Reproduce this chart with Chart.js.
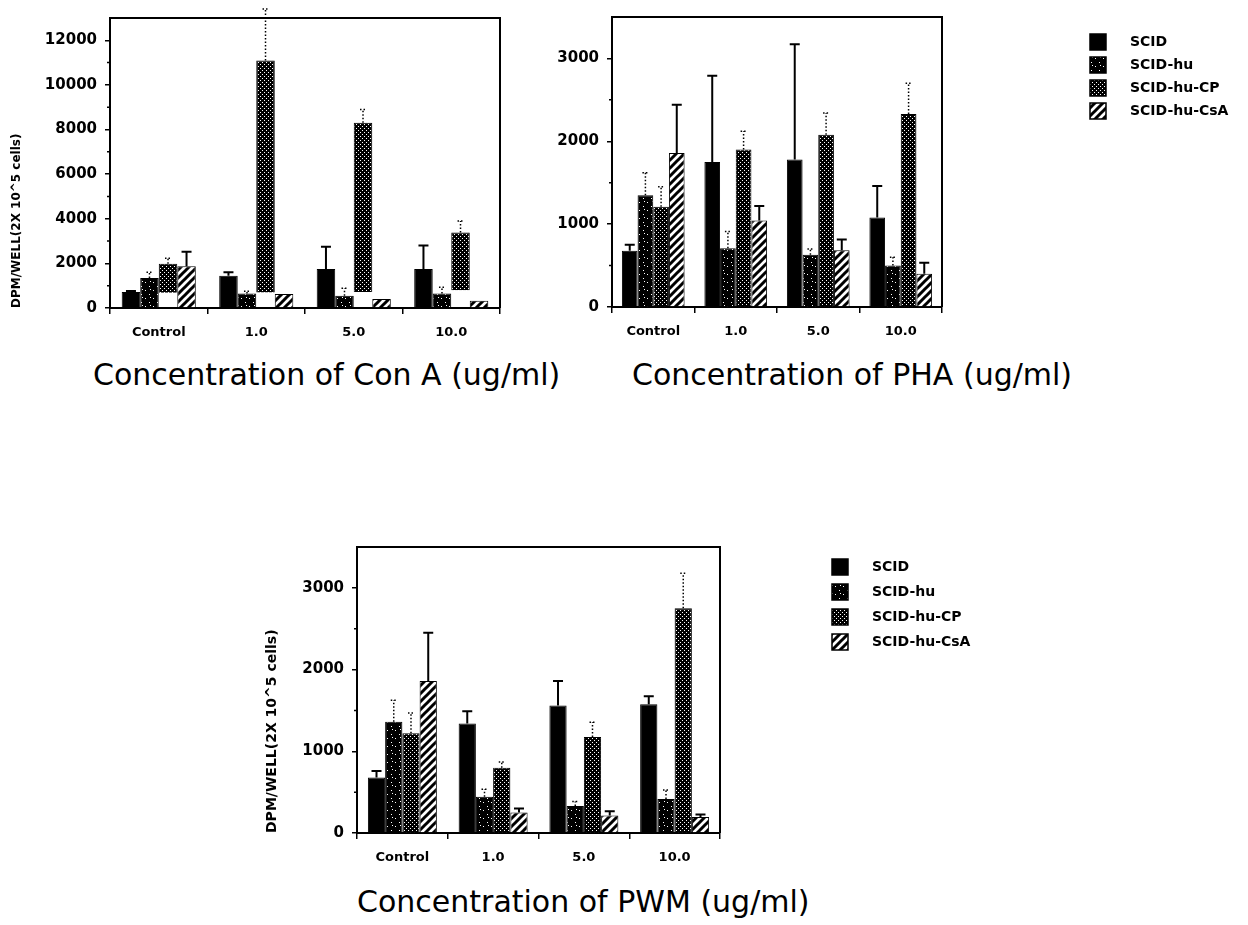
<!DOCTYPE html>
<html>
<head>
<meta charset="utf-8">
<title>Mitogen response</title>
<script src="https://cdn.jsdelivr.net/npm/chart.js@4.4.1/dist/chart.umd.min.js"></script>
<style>
  body { margin: 0; background: #fff; }
  #page { position: relative; width: 1248px; height: 925px; overflow: hidden; }
  #page canvas, .caption { position: absolute; }
  .caption { font: 30px 'DejaVu Sans', sans-serif; line-height: 36px; color: #000; white-space: nowrap; }
</style>
</head>
<body>
<div id="page">
  <canvas id="cona" width="520" height="350" style="left:0;top:0"></canvas>
  <canvas id="pha" width="698" height="350" style="left:550px;top:0"></canvas>
  <canvas id="pwm" width="800" height="350" style="left:250px;top:520px"></canvas>
  <div class="caption" style="left:93px;top:357px">Concentration of Con A (ug/ml)</div>
  <div class="caption" style="left:632px;top:357px">Concentration of PHA (ug/ml)</div>
  <div class="caption" style="left:357px;top:884px">Concentration of PWM (ug/ml)</div>
</div>
<script>
const doses = ['Control', '1.0', '5.0', '10.0'];
const groups = ['SCID', 'SCID-hu', 'SCID-hu-CP', 'SCID-hu-CsA'];
const yLabel = 'DPM/WELL(2X 10^5 cells)';

// Con A
const conaTicks = [0, 2000, 4000, 6000, 8000, 10000, 12000];
const conaScid = [720, 1450, 1750, 1750];
const conaScidErr = [40, 150, 1000, 1050];
const conaHu = [1350, 650, 550, 650];
const conaHuErr = [250, 100, 330, 280];
const conaCpBase = [680, 700, 720, 800];
const conaCp = [1980, 11100, 8300, 3380];
const conaCpErr = [250, 2300, 600, 520];
const conaCsa = [1870, 630, 400, 320];
const conaCsaErr = [650, 0, 0, 0];

// PHA
const phaTicks = [0, 1000, 2000, 3000];
const phaScid = [680, 1750, 1780, 1080];
const phaScidErr = [70, 1040, 1390, 380];
const phaHu = [1350, 710, 630, 500];
const phaHuErr = [270, 200, 70, 100];
const phaCp = [1210, 1900, 2080, 2330];
const phaCpErr = [240, 220, 260, 370];
const phaCsa = [1860, 1045, 685, 400];
const phaCsaErr = [580, 175, 130, 135];

// PWM
const pwmTicks = [0, 1000, 2000, 3000];
const pwmScid = [680, 1340, 1560, 1575];
const pwmScidErr = [80, 150, 300, 100];
const pwmHu = [1360, 445, 330, 415];
const pwmHuErr = [265, 90, 55, 110];
const pwmCp = [1220, 800, 1175, 2750];
const pwmCpErr = [250, 70, 180, 430];
const pwmCsa = [1860, 250, 215, 195];
const pwmCsaErr = [590, 50, 50, 30];

Chart.defaults.font.family = "'DejaVu Sans', sans-serif";
Chart.defaults.color = '#000';

// fill patterns
function tile(size, paint) {
  const c = document.createElement('canvas');
  c.width = c.height = size;
  const g = c.getContext('2d');
  paint(g, size);
  return g.createPattern(c, 'repeat');
}
function dots(g, n, pts) {
  g.fillStyle = '#000';
  g.fillRect(0, 0, n, n);
  g.fillStyle = '#fff';
  pts.forEach(p => g.fillRect(p[0], p[1], 1, 1));
}
const fills = [
  '#000',
  tile(8, (g, n) => dots(g, n, [[1, 2], [5, 6], [6, 1]])),
  tile(4, (g, n) => dots(g, n, [[0, 0], [2, 2]])),
  tile(8, (g, n) => {
    g.fillStyle = '#fff';
    g.fillRect(0, 0, n, n);
    g.strokeStyle = '#000';
    g.lineWidth = 3;
    g.beginPath();
    g.moveTo(-2, n + 2); g.lineTo(n + 2, -2);
    g.moveTo(-4, 4); g.lineTo(4, -4);
    g.moveTo(4, n + 4); g.lineTo(n + 4, 4);
    g.stroke();
  })
];
const dotted = [false, true, true, false];

const errorBars = {
  id: 'errorBars',
  afterDatasetsDraw(chart) {
    const ctx = chart.ctx;
    const y = chart.scales.y;
    chart.data.datasets.forEach((ds, i) => {
      chart.getDatasetMeta(i).data.forEach((bar, j) => {
        const e = ds.errors[j];
        if (!e) return;
        const v = ds.data[j];
        const top = Array.isArray(v) ? v[1] : v;
        const yEnd = y.getPixelForValue(top + e);
        const cap = ds.dotted ? 3 : 5;
        ctx.save();
        ctx.strokeStyle = '#000';
        ctx.lineWidth = ds.dotted ? 1.5 : 2;
        ctx.setLineDash(ds.dotted ? [1.5, 2] : []);
        ctx.beginPath();
        ctx.moveTo(bar.x, bar.y);
        ctx.lineTo(bar.x, yEnd);
        ctx.moveTo(bar.x - cap, yEnd);
        ctx.lineTo(bar.x + cap, yEnd);
        ctx.stroke();
        ctx.restore();
      });
    });
  }
};

const frame = {
  id: 'frame',
  afterDraw(chart, args, opts) {
    const ctx = chart.ctx;
    const a = chart.chartArea;
    const y = chart.scales.y;
    ctx.save();
    ctx.strokeStyle = '#000';
    ctx.lineWidth = 2;
    ctx.beginPath();
    ctx.moveTo(a.left, a.top);
    ctx.lineTo(a.right, a.top);
    ctx.lineTo(a.right, a.bottom);
    ctx.stroke();
    ctx.lineWidth = 1.5;
    ctx.beginPath();
    (opts.minor || []).forEach(v => {
      const p = y.getPixelForValue(v);
      ctx.moveTo(a.left - 3, p);
      ctx.lineTo(a.left, p);
    });
    ctx.stroke();
    ctx.restore();
  }
};

const swatches = {
  id: 'swatches',
  afterDraw(chart, args, opts) {
    if (!opts.show) return;
    const ctx = chart.ctx;
    ctx.save();
    ctx.font = "bold 14px 'DejaVu Sans'";
    ctx.textBaseline = 'middle';
    chart.data.datasets.forEach((ds, i) => {
      const cy = opts.y + i * opts.gap;
      ctx.fillStyle = ds.backgroundColor;
      ctx.fillRect(opts.x, cy - 8, 16, 16);
      ctx.strokeStyle = '#000';
      ctx.lineWidth = 1.5;
      ctx.strokeRect(opts.x, cy - 8, 16, 16);
      ctx.fillStyle = '#000';
      ctx.fillText(ds.label, opts.x + 40, cy);
    });
    ctx.restore();
  }
};

function series(values, errs) {
  return values.map((d, i) => ({
    label: groups[i],
    data: d,
    errors: errs[i],
    dotted: dotted[i],
    backgroundColor: fills[i]
  }));
}

function panel(id, g, datasets) {
  return new Chart(document.getElementById(id), {
    type: 'bar',
    data: { labels: doses, datasets: datasets },
    plugins: [errorBars, frame, swatches],
    options: {
      responsive: false,
      animation: false,
      layout: { padding: { top: g.top, right: g.right, left: 0, bottom: 0 } },
      datasets: {
        bar: { categoryPercentage: 0.76, barPercentage: 1, borderColor: '#000', borderWidth: 1 }
      },
      scales: {
        x: {
          grid: { offset: true, drawOnChartArea: false, tickLength: 6, color: '#000', lineWidth: 1.5 },
          border: { display: true, color: '#000', width: 2 },
          ticks: { font: { size: 13, weight: 'bold' }, padding: 11, maxRotation: 0 },
          afterFit: s => { s.height = g.xHeight; }
        },
        y: {
          min: 0,
          max: g.max,
          grid: { drawOnChartArea: false, tickLength: 5, color: '#000', lineWidth: 1.5 },
          border: { display: true, color: '#000', width: 2 },
          ticks: { font: { size: 15, weight: 'bold' }, padding: 8, callback: v => String(v) },
          title: g.yTitle ? {
            display: true, text: yLabel, align: 'start',
            font: { size: g.yTitle, weight: 'bold' }, padding: { top: g.yTitlePad, bottom: 0 }
          } : { display: false },
          afterBuildTicks: s => { s.ticks = g.ticks.map(v => ({ value: v })); },
          afterFit: s => { s.width = g.yWidth; }
        }
      },
      plugins: {
        legend: { display: false },
        tooltip: { enabled: false },
        frame: { minor: g.minor },
        swatches: g.legend || { show: false }
      }
    }
  });
}

panel('cona', {
  top: 18, right: 20, xHeight: 42, yWidth: 110, max: 13000,
  ticks: conaTicks, minor: [1000, 3000, 5000, 7000, 9000, 11000],
  yTitle: 12, yTitlePad: 10
}, series(
  [conaScid, conaHu, conaCpBase.map((b, i) => [b, conaCp[i]]), conaCsa],
  [conaScidErr, conaHuErr, conaCpErr, conaCsaErr]
));

panel('pha', {
  top: 15, right: 306, xHeight: 43, yWidth: 62, max: 3500,
  ticks: phaTicks, minor: [500, 1500, 2500],
  legend: { show: true, x: 540, y: 42, gap: 23 }
}, series(
  [phaScid, phaHu, phaCp, phaCsa],
  [phaScidErr, phaHuErr, phaCpErr, phaCsaErr]
));

panel('pwm', {
  top: 27, right: 330, xHeight: 37, yWidth: 107, max: 3500,
  ticks: pwmTicks, minor: [500, 1500, 2500],
  yTitle: 14, yTitlePad: 14,
  legend: { show: true, x: 582, y: 47, gap: 25 }
}, series(
  [pwmScid, pwmHu, pwmCp, pwmCsa],
  [pwmScidErr, pwmHuErr, pwmCpErr, pwmCsaErr]
));
</script>
</body>
</html>
